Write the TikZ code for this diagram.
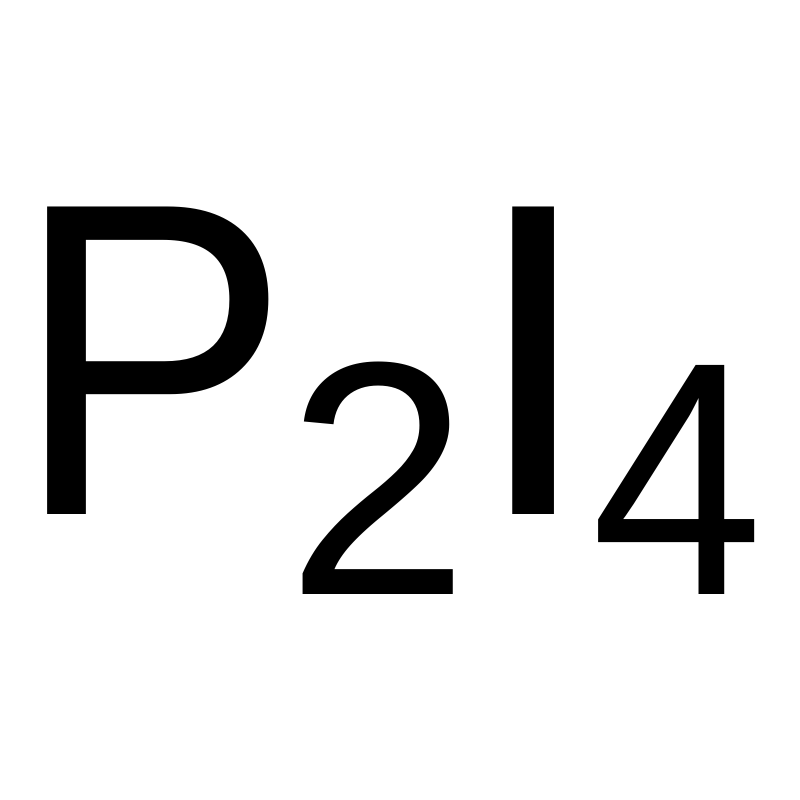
\documentclass[tikz,border=0pt]{standalone}
\usepackage{fontspec}
\setmainfont{Liberation Sans}
\begin{document}
\begin{tikzpicture}[x=1pt,y=1pt,
  big/.style={inner sep=0pt,outer sep=0pt,anchor=base west,font=\fontsize{447}{447}\selectfont},
  small/.style={inner sep=0pt,outer sep=0pt,anchor=base west,font=\fontsize{333}{333}\selectfont}]
\useasboundingbox (0,0) rectangle (800,800);
\node[big,xscale=0.93] (p) at (13,285) {P};
\node[small,xscale=0.99] (two) at (286.5,205) {2};
\node[big] (i) at (471.5,285) {I};
\node[small,xscale=0.93] (four) at (591.5,205) {4};
\end{tikzpicture}
\end{document}
